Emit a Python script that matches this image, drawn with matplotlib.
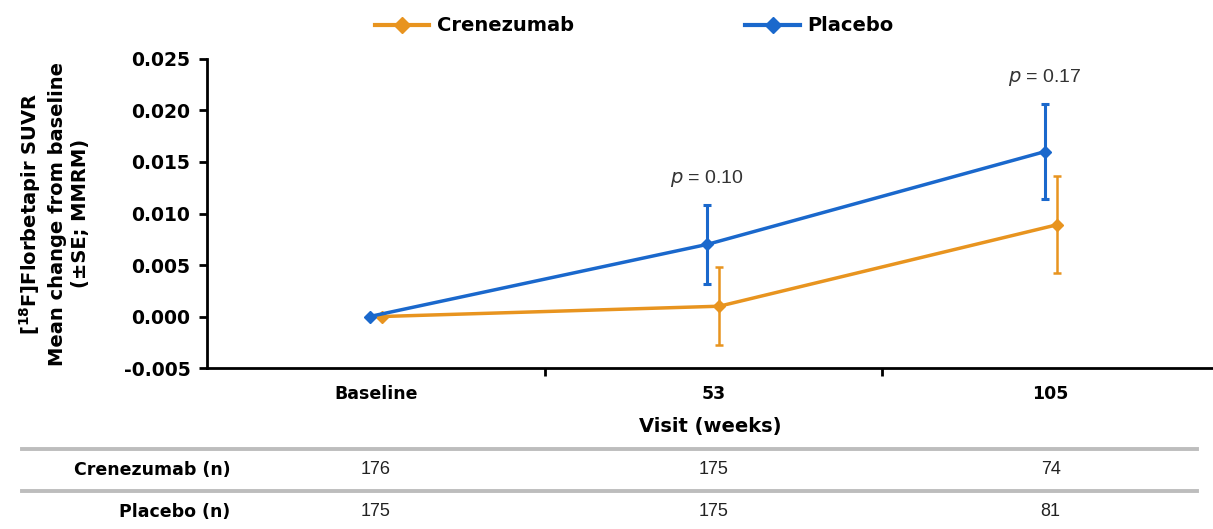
import numpy as np
import matplotlib.pyplot as plt
from matplotlib.lines import Line2D
import matplotlib.transforms as mtransforms

plt.rcParams['font.family'] = ['DejaVu Sans']

# data
visits = ['Baseline', '53', '105']
creno_mean = [0.0, 0.0010, 0.0089]
creno_se = [0.0, 0.0038, 0.0047]
plac_mean = [0.0, 0.0070, 0.0160]
plac_se = [0.0, 0.0038, 0.0046]
pvals = ['', '0.10', '0.17']
creno_n = [176, 175, 74]
plac_n = [175, 175, 81]

c_orange = '#E8941F'
c_blue = '#1A68CC'

fig = plt.figure(figsize=(12.13, 5.29), dpi=100)
ax = fig.add_axes([0.1707, 0.3043, 0.829, 0.5842])

x = np.arange(len(visits))
dx = 0.018
ax.errorbar(x + dx, creno_mean, yerr=creno_se, color=c_orange, lw=2.5, marker='D', ms=6,
            elinewidth=1.8, capsize=3, capthick=1.8, zorder=3)
ax.errorbar(x - dx, plac_mean, yerr=plac_se, color=c_blue, lw=2.5, marker='D', ms=6,
            elinewidth=2.2, capsize=3, capthick=2.2, zorder=4)

for i in range(1, len(visits)):
    top = plac_mean[i] + plac_se[i]
    ax.text(x[i] - dx, top + 0.0026, r'$p$ = ' + pvals[i], ha='center', va='center',
            fontsize=14, color='#333333', family='Liberation Sans')

yt = np.arange(-0.005, 0.0251, 0.005)
ax.set_xlim(-0.5, 2.48)
ax.set_ylim(-0.005, 0.025)
ax.set_yticks(yt)
ax.set_yticklabels(['%.3f' % v for v in yt], fontsize=13.5, fontweight='bold')
ax.set_xticks(x)
ax.set_xticklabels(visits, fontsize=12.5, fontweight='bold')
ax.tick_params(axis='x', length=0, pad=12)
ax.set_xticks([0.5, 1.5], minor=True)
ax.tick_params(axis='x', which='minor', length=6, width=2, direction='out')
ax.tick_params(axis='y', length=6, width=2, direction='out', pad=6)
for s in ['top', 'right']:
    ax.spines[s].set_visible(False)
for s in ['left', 'bottom']:
    ax.spines[s].set_linewidth(2)
ax.set_xlabel('Visit (weeks)', fontsize=14, fontweight='bold', labelpad=10)
ax.set_ylabel('[$^{\\mathbf{18}}$F]Florbetapir SUVR\nMean change from baseline\n(±SE; MMRM)',
              fontsize=14, fontweight='bold', labelpad=24, linespacing=1.3)

handles = [Line2D([], [], color=c_orange, lw=3, marker='D', ms=8),
           Line2D([], [], color=c_blue, lw=3, marker='D', ms=8)]
fig.legend(handles, ['Crenezumab', 'Placebo'], loc='upper center', ncol=2,
           bbox_to_anchor=(0.523, 1.002), frameon=False, handlelength=2.8,
           handletextpad=0.4, columnspacing=8.8, prop={'weight': 'bold', 'size': 14})

# number-at-risk table
trans = mtransforms.blended_transform_factory(ax.transData, fig.transFigure)
for yl in [1 - 449 / 529, 1 - 491 / 529]:
    fig.add_artist(Line2D([0.018, 0.987], [yl, yl], color='#BDBDBD', lw=2.8,
                          transform=fig.transFigure))
rows = [('Crenezumab (n)', creno_n, 1 - 470 / 529), ('Placebo (n)', plac_n, 1 - 512 / 529)]
for label, vals, yy in rows:
    fig.text(0.19, yy, label, ha='right', va='center', fontsize=12.5, fontweight='bold')
    for xi, v in zip(x, vals):
        ax.text(xi, yy, str(v), transform=trans, ha='center', va='center', fontsize=13,
                family='Liberation Sans', color='#222222')

fig.savefig('out.png', dpi=100)
